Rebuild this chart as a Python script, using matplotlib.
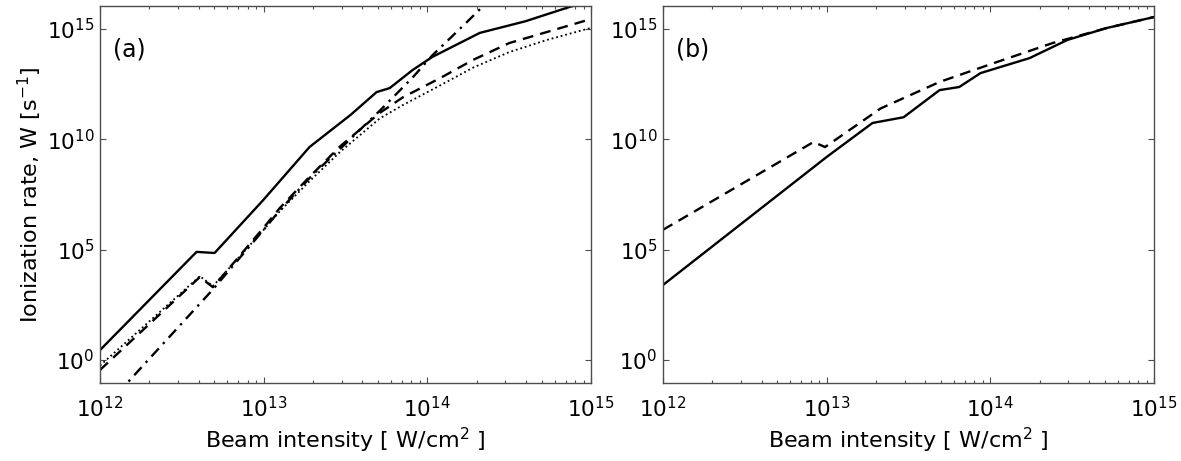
import numpy as np
import matplotlib
matplotlib.use("Agg")
import matplotlib.pyplot as plt
from matplotlib.ticker import LogLocator, NullLocator, LogFormatterMathtext

plt.rcParams['font.family'] = ['DejaVu Sans']

# ---- data (log10 of intensity [W/cm^2], log10 of rate [s^-1]) ----
# panel (a)
solid_a_logI = [12.0, 12.59, 12.70, 13.0, 13.28, 13.53, 13.69, 13.77, 13.91, 14.03, 14.32, 14.6, 14.87, 15.0]
solid_a_logW = [0.45, 4.9, 4.85, 7.27, 9.65, 11.1, 12.14, 12.32, 13.14, 13.73, 14.82, 15.35, 16.0, 16.25]

dashed_a_logI = [12.0, 12.61, 12.69, 13.0, 13.1, 13.28, 13.47, 13.71, 13.85, 14.08, 14.28, 14.5, 14.73, 15.0]
dashed_a_logW = [-0.45, 3.76, 3.3, 6.0, 6.9, 8.3, 9.7, 11.2, 11.9, 12.78, 13.6, 14.36, 14.86, 15.45]

dotted_a_logI = [12.0, 12.61, 12.69, 13.0, 13.1, 13.28, 13.47, 13.71, 13.85, 14.08, 14.28, 14.5, 14.73, 15.0]
dotted_a_logW = [-0.25, 3.8, 3.35, 5.9, 6.75, 8.1, 9.45, 10.95, 11.55, 12.45, 13.25, 13.95, 14.5, 15.05]

dashdot_a_logI = [12.0, 12.21, 12.69, 13.0, 13.1, 13.3, 13.5, 13.71, 13.91, 14.03, 14.24, 14.35]
dashdot_a_logW = [-2.4, -0.68, 3.2, 5.9, 6.8, 8.4, 9.8, 11.3, 12.8, 13.8, 15.3, 16.1]

# panel (b)
solid_b_logI = [12.0, 13.0, 13.28, 13.47, 13.69, 13.81, 13.94, 14.24, 14.47, 14.71, 15.0]
solid_b_logW = [3.4, 9.2, 10.74, 11.0, 12.23, 12.37, 13.0, 13.68, 14.5, 15.04, 15.54]

dashed_b_logI = [12.0, 12.92, 12.99, 13.33, 13.69, 14.02, 14.38, 14.71, 15.0]
dashed_b_logW = [5.9, 9.88, 9.65, 11.4, 12.6, 13.45, 14.36, 15.04, 15.54]

x_ticks = [1e12, 1e13, 1e14, 1e15]
y_ticks = [1e0, 1e5, 1e10, 1e15]
panel_labels = ['(a)', '(b)']
xlabel = 'Beam intensity [ W/cm$^2$ ]'
ylabel = 'Ionization rate, W [s$^{-1}$]'

W, H = 1181, 461
fig = plt.figure(figsize=(W / 100, H / 100), dpi=100)
axA = fig.add_axes([100 / W, 1 - 383 / H, 491 / W, 377 / H])
axB = fig.add_axes([663 / W, 1 - 383 / H, 491 / W, 377 / H])

def p(v):
    return 10 ** np.asarray(v, dtype=float)

lw = 1.7
dash = (0, (4.6, 3.0))
axA.plot(p(solid_a_logI), p(solid_a_logW), color='k', lw=lw, ls='-')
axA.plot(p(dashed_a_logI), p(dashed_a_logW), color='k', lw=lw, ls=dash)
axA.plot(p(dotted_a_logI), p(dotted_a_logW), color='k', lw=1.3, ls=(0, (1, 1.6)))
axA.plot(p(dashdot_a_logI), p(dashdot_a_logW), color='k', lw=lw, ls=(0, (4.6, 2.6, 1, 2.6)))

axB.plot(p(solid_b_logI), p(solid_b_logW), color='k', lw=lw, ls='-')
axB.plot(p(dashed_b_logI), p(dashed_b_logW), color='k', lw=lw, ls=dash)

for ax, lab in zip([axA, axB], panel_labels):
    ax.set_xscale('log')
    ax.set_yscale('log')
    ax.set_xlim(1e12, 1e15)
    ax.set_ylim(10 ** -1.04, 10 ** 16.04)
    ax.set_xticks(x_ticks)
    ax.set_yticks(y_ticks)
    ax.xaxis.set_minor_locator(LogLocator(base=10, subs=np.arange(2, 10)))
    ax.yaxis.set_minor_locator(NullLocator())
    ax.xaxis.set_major_formatter(LogFormatterMathtext())
    ax.yaxis.set_major_formatter(LogFormatterMathtext())
    ax.tick_params(which='both', direction='in', top=True, right=True,
                   color='0.3', labelsize=15.5, width=0.8)
    ax.tick_params(which='major', length=4)
    ax.tick_params(which='minor', length=2.5)
    ax.tick_params(axis='x', which='major', pad=9)
    ax.tick_params(axis='y', which='major', pad=4)
    for s in ax.spines.values():
        s.set_color('0.3')
        s.set_linewidth(1.0)
    ax.set_xlabel(xlabel, fontsize=16, labelpad=4)
    ax.text(0.027, 0.885, lab, transform=ax.transAxes, fontsize=17,
            ha='left', va='center')

axA.set_ylabel(ylabel, fontsize=16, labelpad=2)

fig.savefig('out.png', dpi=100)
